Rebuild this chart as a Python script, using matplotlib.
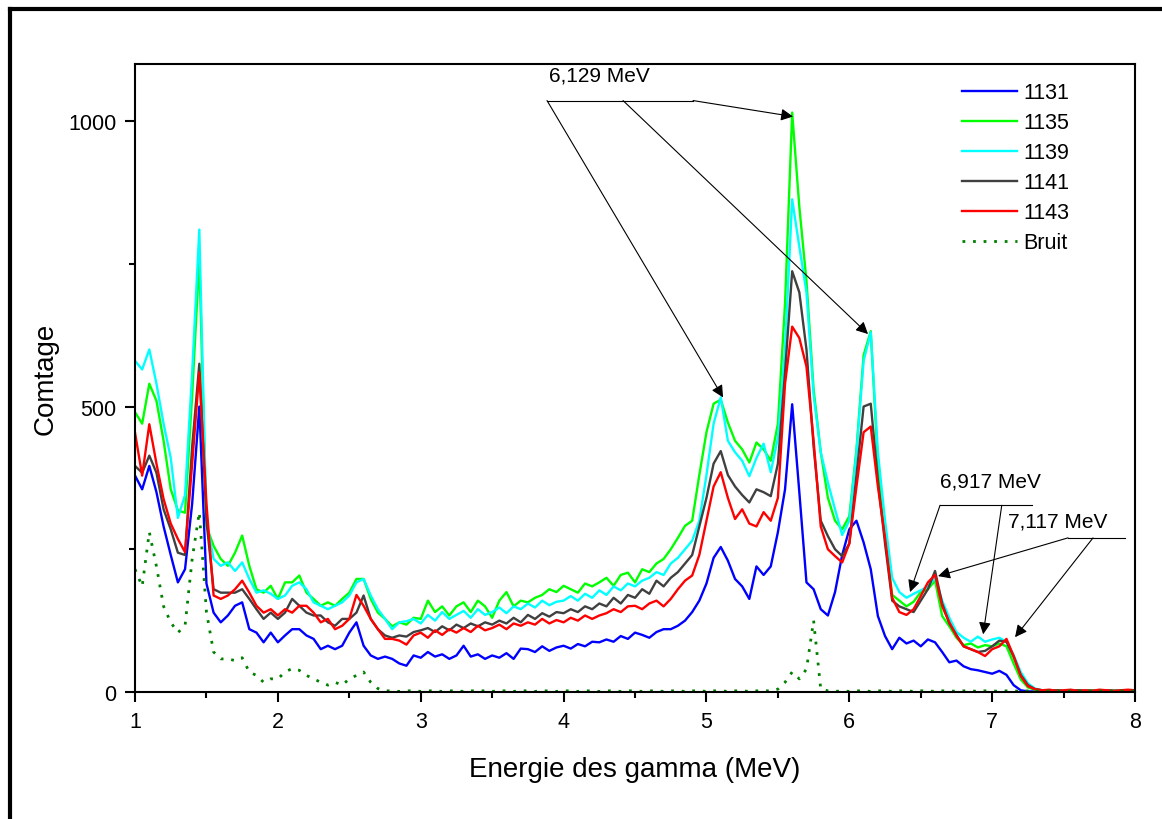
import numpy as np
import matplotlib
matplotlib.use('Agg')
import matplotlib.pyplot as plt
from matplotlib.lines import Line2D
from matplotlib.ticker import MultipleLocator

plt.rcParams['font.family'] = ['Liberation Sans', 'DejaVu Sans']

#energy channels (MeV), one every 0.05
energy = np.linspace(1, 8, 141)

#counts (rows: 1.00-1.95, 2.00-2.95, ... , 7.00-7.95, 8.00)
c1131 = [379, 355, 396, 350, 290, 240, 192, 215, 330, 500, 190, 139, 122, 134, 151, 157, 110, 104, 87, 104,
         87, 99, 110, 110, 99, 93, 75, 81, 75, 81, 104, 122, 81, 64, 58, 62, 58, 50, 46, 64,
         60, 70, 62, 66, 58, 64, 81, 62, 66, 58, 64, 60, 68, 58, 76, 75, 70, 80, 72, 78,
         81, 76, 84, 80, 88, 87, 92, 88, 98, 93, 104, 100, 95, 105, 110, 110, 116, 125, 140, 160,
         190, 235, 254, 230, 198, 185, 163, 220, 205, 220, 280, 355, 504, 350, 192, 180, 145, 134, 175, 240,
         285, 300, 262, 215, 133, 98, 75, 95, 85, 90, 80, 92, 87, 70, 52, 55, 45, 40, 38, 35,
         32, 37, 30, 12, 3, 1, 1, 1, 1, 1, 1, 1, 1, 1, 1, 1, 1, 1, 1, 1,
         1]
c1135 = [490, 470, 540, 510, 440, 355, 318, 314, 520, 760, 290, 256, 233, 221, 244, 274, 221, 180, 174, 186,
         163, 192, 192, 204, 174, 163, 151, 157, 151, 163, 174, 198, 198, 163, 139, 128, 115, 122, 118, 130,
         128, 160, 140, 150, 134, 150, 157, 140, 160, 150, 130, 160, 175, 150, 160, 157, 165, 170, 180, 175,
         186, 180, 174, 190, 185, 192, 200, 186, 205, 209, 192, 215, 210, 225, 233, 250, 270, 291, 300, 380,
         455, 505, 512, 472, 440, 425, 402, 437, 425, 405, 470, 680, 1015, 850, 720, 530, 420, 340, 300, 285,
         308, 425, 590, 632, 400, 270, 170, 160, 150, 158, 175, 180, 195, 133, 115, 95, 82, 85, 78, 82,
         80, 85, 80, 50, 22, 8, 4, 2, 3, 2, 2, 3, 2, 2, 3, 2, 2, 2, 3, 2,
         2]
c1139 = [580, 565, 600, 540, 470, 410, 305, 345, 560, 810, 300, 233, 221, 227, 212, 227, 198, 174, 178, 172,
         163, 169, 186, 192, 180, 157, 151, 145, 151, 157, 169, 192, 198, 169, 145, 128, 110, 122, 124, 128,
         120, 135, 125, 140, 128, 135, 142, 130, 145, 135, 140, 148, 138, 150, 145, 155, 148, 160, 152, 158,
         160, 168, 160, 172, 165, 178, 170, 185, 178, 190, 185, 195, 200, 210, 205, 225, 235, 250, 265, 300,
         380, 470, 516, 440, 420, 405, 378, 410, 435, 385, 445, 600, 863, 780, 700, 520, 420, 367, 320, 275,
         300, 420, 580, 630, 420, 300, 200, 175, 165, 172, 178, 185, 200, 160, 130, 105, 95, 88, 97, 88,
         92, 95, 88, 65, 35, 15, 6, 3, 2, 3, 2, 2, 3, 2, 2, 3, 2, 2, 3, 2,
         2]
c1141 = [396, 384, 414, 384, 320, 285, 244, 240, 430, 575, 300, 180, 174, 174, 174, 180, 163, 145, 128, 139,
         128, 139, 163, 151, 139, 134, 134, 122, 116, 128, 128, 139, 169, 128, 110, 99, 95, 99, 97, 105,
         108, 112, 105, 115, 108, 118, 112, 120, 115, 122, 118, 125, 120, 130, 122, 135, 128, 138, 132, 140,
         138, 145, 140, 150, 145, 155, 150, 165, 155, 170, 165, 180, 172, 195, 185, 200, 210, 225, 240, 290,
         340, 400, 422, 380, 360, 345, 332, 355, 350, 343, 400, 560, 737, 700, 600, 430, 300, 273, 250, 238,
         260, 380, 500, 505, 370, 260, 160, 150, 145, 140, 160, 180, 212, 155, 120, 100, 80, 75, 70, 72,
         80, 90, 88, 62, 30, 12, 5, 3, 2, 3, 2, 2, 3, 2, 2, 2, 3, 2, 2, 3,
         2]
c1143 = [454, 379, 469, 400, 338, 295, 268, 245, 400, 560, 330, 169, 163, 169, 180, 195, 174, 151, 139, 145,
         134, 145, 139, 151, 151, 139, 122, 128, 110, 116, 128, 170, 151, 128, 110, 93, 93, 90, 83, 99,
         104, 95, 108, 100, 110, 104, 112, 105, 116, 108, 112, 118, 110, 120, 116, 122, 118, 128, 120, 126,
         122, 130, 125, 134, 128, 134, 138, 145, 140, 150, 151, 145, 155, 160, 150, 163, 180, 195, 204, 240,
         300, 360, 385, 340, 303, 320, 295, 290, 315, 300, 340, 540, 640, 620, 570, 440, 290, 250, 238, 227,
         260, 360, 455, 465, 360, 270, 165, 140, 135, 145, 168, 192, 205, 150, 122, 98, 80, 75, 70, 63,
         75, 80, 93, 63, 28, 10, 5, 3, 4, 2, 3, 4, 2, 3, 2, 4, 3, 2, 3, 4,
         3]
bruit = [215, 185, 280, 220, 150, 122, 104, 116, 233, 315, 140, 70, 58, 58, 55, 60, 35, 29, 17, 23,
         23, 35, 41, 38, 29, 23, 17, 12, 17, 12, 23, 29, 35, 17, 6, 2, 2, 1, 2, 2,
         1, 2, 2, 1, 2, 2, 1, 2, 2, 2, 1, 2, 2, 1, 2, 2, 1, 2, 2, 1,
         2, 2, 1, 2, 2, 1, 2, 2, 1, 2, 2, 1, 2, 2, 1, 2, 2, 1, 2, 2,
         1, 2, 2, 1, 2, 2, 1, 2, 2, 2, 5, 17, 35, 23, 40, 125, 5, 2, 1, 2,
         1, 2, 2, 1, 2, 2, 1, 2, 2, 1, 2, 2, 1, 2, 2, 1, 2, 2, 1, 2,
         2, 1, 2, 2, 1, 2, 2, 1, 2, 2, 1, 2, 2, 1, 2, 2, 1, 2, 2, 1,
         2]

#figure
fig = plt.figure(figsize=(11.62, 8.20), dpi=100)
ax = fig.add_axes([0.1162, 0.1549, 0.8606, 0.7658])

ax.plot(energy, c1131, color='#0000ff', lw=1.7, label='1131')
ax.plot(energy, c1135, color='#00ff00', lw=1.7, label='1135')
ax.plot(energy, c1139, color='#00ffff', lw=1.7, label='1139')
ax.plot(energy, c1141, color='#404040', lw=1.7, label='1141')
ax.plot(energy, c1143, color='#ff0000', lw=1.7, label='1143')
ax.plot(energy, bruit, color='#008000', lw=2.0, linestyle=(0, (1, 2.8)), label='Bruit')

ax.set_xlim(1, 8)
ax.set_ylim(0, 1100)
ax.xaxis.set_major_locator(MultipleLocator(1))
ax.xaxis.set_minor_locator(MultipleLocator(0.5))
ax.yaxis.set_major_locator(MultipleLocator(500))
ax.yaxis.set_minor_locator(MultipleLocator(250))
ax.tick_params(which='both', direction='out', top=False, right=False, width=1.5, labelsize=15.5, pad=6)
ax.tick_params(which='major', length=7.5)
ax.tick_params(which='minor', length=4.5)
for s in ax.spines.values():
    s.set_linewidth(1.5)

ax.set_xlabel('Energie des gamma (MeV)', fontsize=20)
ax.set_ylabel('Comtage', fontsize=20)
ax.xaxis.set_label_coords(0.5, -0.102)
ax.yaxis.set_label_coords(-0.076, 0.5)

ax.legend(loc='upper left', bbox_to_anchor=(0.827, 0.971), frameon=False, fontsize=15.5,
          handlelength=2.55, handletextpad=0.3, labelspacing=0.42, borderpad=0, borderaxespad=0)

#annotations
arr = dict(arrowstyle='-|>', color='k', lw=0.8, mutation_scale=18, shrinkA=0, shrinkB=0)
ax.text(3.9, 1080, '6,129 MeV', fontsize=15, va='center', ha='left')
ax.plot([3.884, 4.906], [1036, 1036], color='k', lw=0.8)
ax.annotate('', xy=(5.606, 1008), xytext=(4.906, 1036), arrowprops=arr)
ax.annotate('', xy=(5.116, 516), xytext=(3.884, 1036), arrowprops=arr)
ax.annotate('', xy=(6.131, 627), xytext=(4.416, 1036), arrowprops=arr)

ax.text(6.99, 369, '6,917 MeV', fontsize=15, va='center', ha='center')
ax.plot([6.635, 7.279], [327, 327], color='k', lw=0.8)
ax.annotate('', xy=(6.425, 175), xytext=(6.635, 327), arrowprops=arr)
ax.annotate('', xy=(6.937, 101), xytext=(7.067, 327), arrowprops=arr)

ax.text(7.46, 299, '7,117 MeV', fontsize=15, va='center', ha='center')
ax.plot([7.531, 7.93], [270, 270], color='k', lw=0.8)
ax.annotate('', xy=(6.621, 203), xytext=(7.531, 270), arrowprops=arr)
ax.annotate('', xy=(7.16, 96), xytext=(7.706, 270), arrowprops=arr)

#outer frame (left and top edges visible)
fig.add_artist(Line2D([10 / 1162, 10 / 1162], [-0.1, 1 - 10 / 820], transform=fig.transFigure, color='k', lw=3))
fig.add_artist(Line2D([10 / 1162, 1.1], [1 - 10 / 820, 1 - 10 / 820], transform=fig.transFigure, color='k', lw=3))

plt.savefig('out.png', dpi=100)
